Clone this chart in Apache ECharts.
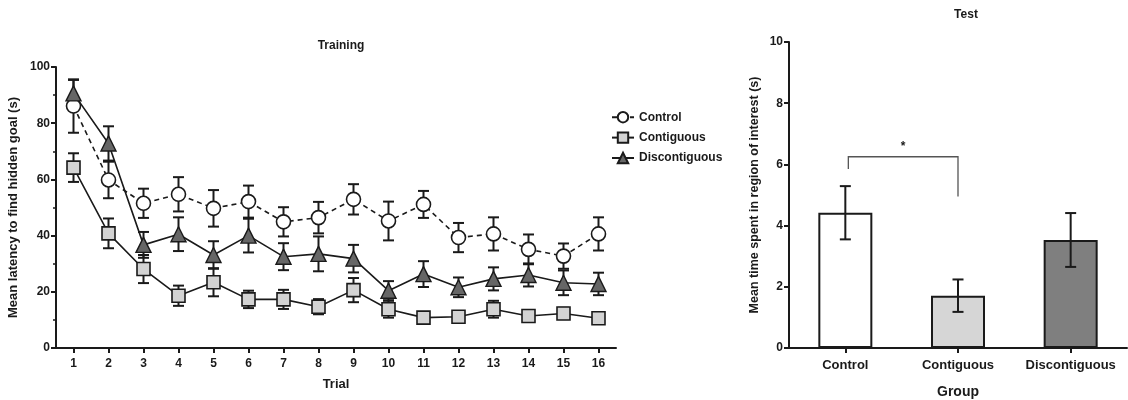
<!DOCTYPE html>
<html><head><meta charset="utf-8">
<script src="https://cdn.jsdelivr.net/npm/echarts@6/dist/echarts.min.js"></script>
<style>html,body{margin:0;padding:0;background:#fff}#c{width:1128px;height:400px}</style>
</head><body><div id="c"></div>
<script>
const trials = ['1','2','3','4','5','6','7','8','9','10','11','12','13','14','15','16'];
const controlMean = [86.1,59.8,51.5,54.7,49.7,52.1,44.9,46.4,52.9,45.2,51.1,39.3,40.6,35.1,32.7,40.6];
const controlSem  = [9.5,6.5,5.2,6.1,6.5,5.7,5.2,5.6,5.4,6.9,4.8,5.2,5.9,5.3,4.5,5.9];
const contigMean  = [64.2,40.8,28.1,18.6,23.4,17.3,17.3,14.7,20.6,13.8,10.8,11.1,13.8,11.4,12.3,10.6];
const contigSem   = [5.1,5.3,5.0,3.6,5.0,3.1,3.4,2.7,4.3,3.0,1.5,1.5,3.0,1.5,2.0,1.5];
const discMean    = [90.6,72.8,36.7,40.5,33.1,40.0,32.5,33.5,31.8,20.4,26.3,21.6,24.6,26.0,23.2,22.8];
const discSem     = [4.8,6.1,4.6,6.0,4.9,6.0,4.8,6.2,4.9,3.4,4.6,3.5,4.1,4.1,4.4,4.0];

const groups   = ['Control','Contiguous','Discontiguous'];
const testMean = [4.42,1.71,3.53];
const testSem  = [0.87,0.53,0.88];

// significance bracket: [fromIndex, toIndex, bracketTop, leftLegEnd, rightLegEnd]
const sigBracket = [0, 1, 6.25, 5.85, 4.95];
const sigLabel = '*';

const FONT = 'Liberation Sans, Arial, sans-serif';
const ink = '#1a1a1a';

function errRender(params, api){
  const x = api.value(0), m = api.value(1), e = api.value(2);
  const t = api.coord([x, m + e]), b = api.coord([x, m - e]);
  const w = 5.5;
  const st = {stroke: ink, lineWidth: 2};
  return {type:'group', children:[
    {type:'line', shape:{x1:t[0],y1:t[1],x2:b[0],y2:b[1]}, style:st},
    {type:'line', shape:{x1:t[0]-w,y1:t[1],x2:t[0]+w,y2:t[1]}, style:st},
    {type:'line', shape:{x1:b[0]-w,y1:b[1],x2:b[0]+w,y2:b[1]}, style:st}
  ]};
}
function errData(mean, sem){ return mean.map((v,i)=>[i, v, sem[i]]); }

const axisTxt = {color: ink, fontWeight: 'bold', fontSize: 12, fontFamily: FONT};
const axLine = {show:true, lineStyle:{color: ink, width: 2}};
const axTick = {show:true, length:5, lineStyle:{color: ink, width: 2}};

const option = {
  animation: false,
  textStyle: {fontFamily: FONT},
  title: [
    {text:'Training', left: 336, top: 35, textAlign:'center', textStyle:{fontSize:12, fontWeight:'bold', color: ink, fontFamily: FONT}},
    {text:'Test', left: 961, top: 4, textAlign:'center', textStyle:{fontSize:12, fontWeight:'bold', color: ink, fontFamily: FONT}}
  ],
  legend: {
    orient:'vertical', left: 606, top: 106, itemWidth: 22, itemHeight: 13, itemGap: 8,
    textStyle:{fontSize:12, fontWeight:'bold', color: ink, fontFamily: FONT},
    data: ['Control','Contiguous','Discontiguous']
  },
  grid: [
    {left: 56, top: 67, width: 560, height: 281, outerBoundsMode:'none', containLabel:false},
    {left: 789, top: 42, width: 338, height: 306, outerBoundsMode:'none', containLabel:false}
  ],
  xAxis: [
    {type:'category', gridIndex:0, data: trials, boundaryGap: true,
     name:'Trial', nameLocation:'middle', nameGap: 30,
     nameTextStyle:{fontSize:13, fontWeight:'bold', color: ink, fontFamily: FONT},
     axisLine: axLine, axisTick: Object.assign({alignWithLabel:true, interval:0}, axTick),
     axisLabel: Object.assign({margin: 10, interval:0}, axisTxt)},
    {type:'category', gridIndex:1, data: groups, boundaryGap: true,
     name:'Group', nameLocation:'middle', nameGap: 37,
     nameTextStyle:{fontSize:14, fontWeight:'bold', color: ink, fontFamily: FONT},
     axisLine: axLine, axisTick: Object.assign({alignWithLabel:true, interval:0}, axTick),
     axisLabel: Object.assign({}, axisTxt, {fontSize:13, margin: 11, interval:0})}
  ],
  yAxis: [
    {type:'value', gridIndex:0, min:0, max:100, interval:20,
     name:'Mean latency to find hidden goal (s)', nameLocation:'middle', nameGap: 36,
     nameTextStyle:{fontSize:13, fontWeight:'bold', color: ink, fontFamily: FONT},
     axisLine: axLine, axisTick: axTick,
     minorTick:{show:true, splitNumber:2, length:3, lineStyle:{color: ink, width:1.5}},
     splitLine:{show:false}, axisLabel: Object.assign({margin: 6}, axisTxt)},
    {type:'value', gridIndex:1, min:0, max:10, interval:2,
     name:'Mean time spent in region of interest (s)', nameLocation:'middle', nameGap: 28,
     nameTextStyle:{fontSize:12.5, fontWeight:'bold', color: ink, fontFamily: FONT},
     axisLine: axLine, axisTick: axTick,
     splitLine:{show:false}, axisLabel: Object.assign({margin: 6}, axisTxt)}
  ],
  series: [
    {type:'custom', xAxisIndex:0, yAxisIndex:0, renderItem: errRender, data: errData(controlMean, controlSem), encode:{x:0,y:1}, z:1, silent:true},
    {type:'custom', xAxisIndex:0, yAxisIndex:0, renderItem: errRender, data: errData(contigMean, contigSem), encode:{x:0,y:1}, z:1, silent:true},
    {type:'custom', xAxisIndex:0, yAxisIndex:0, renderItem: errRender, data: errData(discMean, discSem), encode:{x:0,y:1}, z:1, silent:true},
    {name:'Control', type:'line', xAxisIndex:0, yAxisIndex:0, data: controlMean, z:3,
     symbol:'circle', symbolSize:14, showAllSymbol:true,
     lineStyle:{color: ink, width:1.6, type:[5,4]},
     itemStyle:{color:'#ffffff', borderColor: ink, borderWidth:1.6}},
    {name:'Contiguous', type:'line', xAxisIndex:0, yAxisIndex:0, data: contigMean, z:3,
     symbol:'rect', symbolSize:13, showAllSymbol:true,
     lineStyle:{color: ink, width:1.6},
     itemStyle:{color:'#d3d3d3', borderColor: ink, borderWidth:1.6}},
    {name:'Discontiguous', type:'line', xAxisIndex:0, yAxisIndex:0, data: discMean, z:3,
     symbol:'triangle', symbolSize:15, showAllSymbol:true,
     lineStyle:{color: ink, width:1.6},
     itemStyle:{color:'#666666', borderColor: ink, borderWidth:1.4}},
    {type:'bar', xAxisIndex:1, yAxisIndex:1, barWidth: 54, z:2,
     data: testMean.map((v,i)=>({value:v, itemStyle:{color:['#ffffff','#d6d6d6','#7f7f7f'][i], borderColor: ink, borderWidth:2}}))},
    {type:'custom', xAxisIndex:1, yAxisIndex:1, renderItem: errRender, data: errData(testMean, testSem), encode:{x:0,y:1}, z:4, silent:true},
    {type:'custom', xAxisIndex:1, yAxisIndex:1, z:4, silent:true,
     data:[sigBracket], encode:{x:[0,1], y:[2,3,4]},
     renderItem: function(params, api){
       const a = api.value(0), b = api.value(1);
       const tl = api.coord([a, api.value(2)]), tr = api.coord([b, api.value(2)]);
       const bl = api.coord([a, api.value(3)]), br = api.coord([b, api.value(4)]);
       const st = {stroke:'#555', lineWidth:1.3, fill:null};
       return {type:'group', children:[
         {type:'polyline', shape:{points:[[bl[0]+3,bl[1]],[tl[0]+3,tl[1]],[tr[0],tr[1]],[br[0],br[1]]]}, style:st},
         {type:'text', x:(tl[0]+3+tr[0])/2, y: tl[1]-4, style:{text: sigLabel, fill: ink, font:'bold 12px '+FONT, align:'center', verticalAlign:'bottom'}}
       ]};
     }}
  ]
};
echarts.init(document.getElementById('c'), null, {renderer:'canvas'}).setOption(option);
</script></body></html>
